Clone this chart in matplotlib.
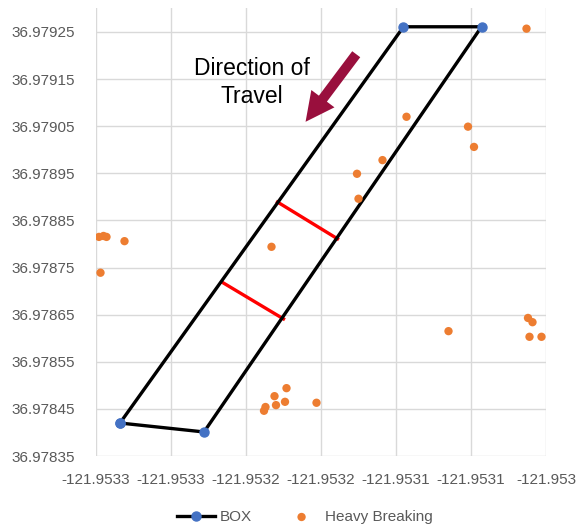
import matplotlib
matplotlib.use("Agg")
import matplotlib.pyplot as plt
import numpy as np

plt.rcParams['font.family'] = ['Liberation Sans', 'DejaVu Sans']

# Survey box corners (closed polygon)
box_lon = [-121.953334, -121.953278, -121.953093, -121.953145, -121.953334]
box_lat = [36.978420, 36.978401, 36.979261, 36.979261, 36.978420]

# Cross-section lines inside the box
cut1_lon = [-121.953229, -121.953189]
cut1_lat = [36.978889, 36.978811]
cut2_lon = [-121.953266, -121.953225]
cut2_lat = [36.978719, 36.978641]

# Heavy braking events
hb_lon = [-121.953348, -121.953345, -121.953343, -121.953331, -121.953347,
          -121.953233,
          -121.953238, -121.953237, -121.953231, -121.953230, -121.953224,
          -121.953223, -121.953203,
          -121.953143, -121.953159, -121.953176, -121.953175, -121.953102,
          -121.953098, -121.953063,
          -121.953115, -121.953062, -121.953059, -121.953061, -121.953053]
hb_lat = [36.978815, 36.978817, 36.978815, 36.978806, 36.978739,
          36.978794,
          36.978446, 36.978454, 36.978477, 36.978458, 36.978465,
          36.978494, 36.978463,
          36.979070, 36.978978, 36.978949, 36.978896, 36.979049,
          36.979006, 36.979257,
          36.978615, 36.978643, 36.978634, 36.978603, 36.978603]

x_ticks = [-121.95335, -121.95330, -121.95325, -121.95320, -121.95315, -121.95310, -121.95305]
x_tick_labels = ["-121.9533", "-121.9533", "-121.9532", "-121.9532",
                 "-121.9531", "-121.9531", "-121.953"]
y_ticks = [36.97835, 36.97845, 36.97855, 36.97865, 36.97875,
           36.97885, 36.97895, 36.97905, 36.97915, 36.97925]
y_min, y_max = 36.97835, 36.97930

fig = plt.figure(figsize=(5.84, 5.29), dpi=100)
ax = fig.add_axes([96/584, (529-456)/529, 450/584, (456-8.4)/529])

grid_c = '#D9D9D9'
for xv in x_ticks:
    ax.axvline(xv, color=grid_c, lw=1, zorder=0)
for yv in y_ticks:
    ax.axhline(yv, color=grid_c, lw=1, zorder=0)

ax.plot(box_lon, box_lat, color='black', lw=2.4, marker='o', ms=6.5,
        mfc='#4472C4', mec='#4472C4', label='BOX', zorder=3)
ax.plot(cut1_lon, cut1_lat, color='#FF0000', lw=2.4, zorder=2)
ax.plot(cut2_lon, cut2_lat, color='#FF0000', lw=2.4, zorder=2)
ax.scatter(hb_lon, hb_lat, s=36, color='#ED7D31', edgecolors='none',
           label='Heavy Breaking', zorder=4)

ax.set_xlim(x_ticks[0], x_ticks[-1])
ax.set_ylim(y_min, y_max)
ax.set_xticks(x_ticks)
ax.set_xticklabels(x_tick_labels)
ax.set_yticks(y_ticks)
ax.set_yticklabels([f"{v:.5f}" for v in y_ticks])
ax.tick_params(axis='both', length=0, labelsize=11, colors='#595959')
ax.tick_params(axis='y', pad=15)
ax.tick_params(axis='x', pad=12)
for s in ax.spines.values():
    s.set_visible(False)

ax.text(0.3467, 0.834, "Direction of\nTravel", transform=ax.transAxes,
        ha='center', va='center', fontsize=16.5, color='black', linespacing=1.3)
ax.annotate("", xy=(0.462, 0.7417), xytext=(0.582, 0.9026),
            xycoords='axes fraction', textcoords='axes fraction',
            arrowprops=dict(arrowstyle='simple,head_length=1.3,head_width=1.3,tail_width=0.45',
                            color='#990F3D', lw=0, mutation_scale=16))

fig.legend(loc='center', bbox_to_anchor=(305/584, (529-517)/529), ncol=2,
           frameon=False, fontsize=11, labelcolor='#595959',
           handlelength=2.5, columnspacing=2.0, handletextpad=0.3)

fig.savefig('out.png', dpi=100, facecolor='white')
